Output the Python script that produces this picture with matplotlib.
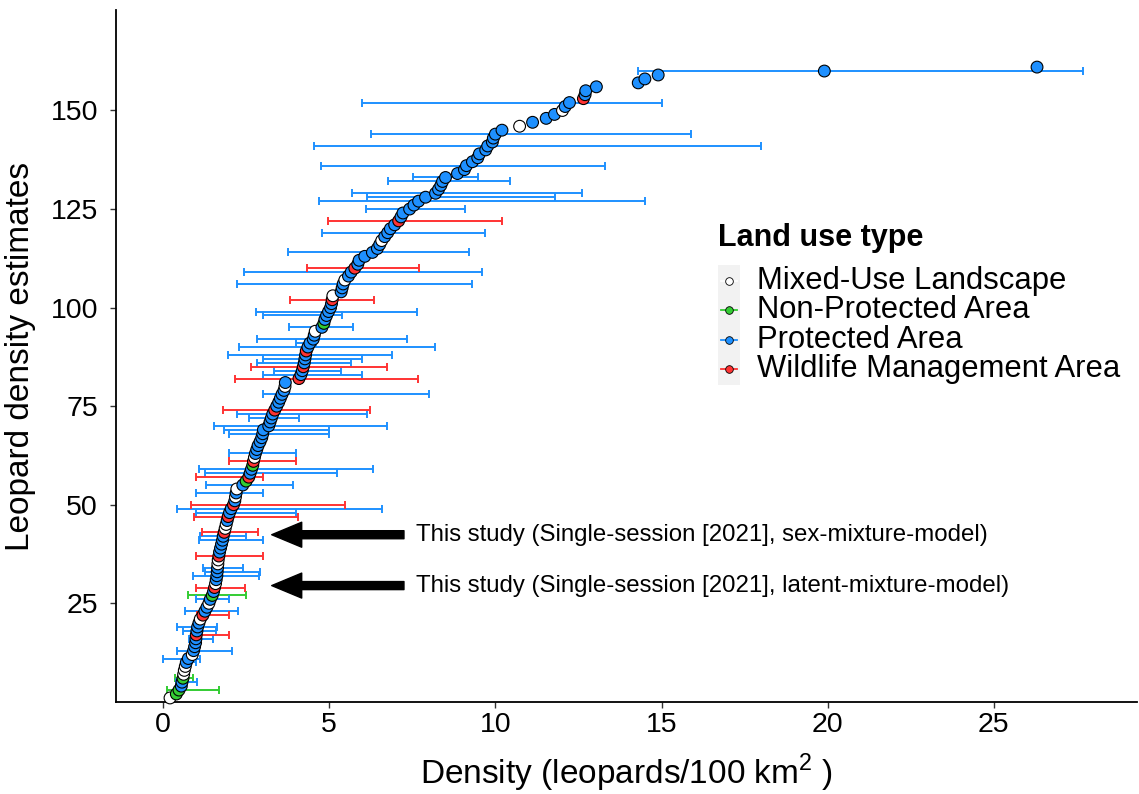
import numpy as np
import matplotlib
matplotlib.use("Agg")
import matplotlib.pyplot as plt
from matplotlib.patches import Rectangle
from matplotlib.lines import Line2D

plt.rcParams['font.family'] = ['Liberation Sans', 'DejaVu Sans']
plt.rcParams['mathtext.fontset'] = 'custom'
plt.rcParams['mathtext.rm'] = 'Liberation Sans'

# ranked leopard density estimates (leopards / 100 km2), rank 1..161
density = [
    0.21, 0.40, 0.48, 0.55, 0.57, 0.60, 0.62, 0.64, 0.67, 0.70,
    0.76, 0.88, 0.92, 0.95, 0.98, 0.99, 1.00, 1.02, 1.04, 1.08,
    1.12, 1.20, 1.26, 1.32, 1.38, 1.42, 1.48, 1.52, 1.55, 1.58,
    1.60, 1.62, 1.63, 1.64, 1.65, 1.66, 1.68, 1.70, 1.73, 1.76,
    1.79, 1.81, 1.84, 1.87, 1.90, 1.93, 1.96, 2.00, 2.05, 2.12,
    2.16, 2.18, 2.20, 2.22, 2.40, 2.50, 2.58, 2.62, 2.66, 2.70,
    2.72, 2.75, 2.78, 2.82, 2.86, 2.92, 2.97, 3.00, 3.02, 3.18,
    3.22, 3.26, 3.30, 3.36, 3.42, 3.48, 3.53, 3.58, 3.64, 3.67,
    3.68, 4.09, 4.15, 4.19, 4.22, 4.25, 4.27, 4.29, 4.31, 4.36,
    4.42, 4.52, 4.55, 4.58, 4.78, 4.84, 4.87, 4.92, 4.98, 5.04,
    5.07, 5.09, 5.11, 5.36, 5.39, 5.42, 5.47, 5.58, 5.66, 5.77,
    5.86, 5.90, 6.07, 6.30, 6.45, 6.52, 6.58, 6.67, 6.76, 6.84,
    6.97, 7.09, 7.16, 7.22, 7.42, 7.55, 7.69, 7.90, 8.20, 8.29,
    8.36, 8.41, 8.50, 8.86, 9.07, 9.13, 9.31, 9.47, 9.52, 9.71,
    9.77, 9.91, 9.94, 10.00, 10.20, 10.73, 11.12, 11.53, 11.78, 12.02,
    12.10, 12.23, 12.65, 12.70, 12.72, 13.04, 14.30, 14.50, 14.90, 19.90,
    26.30,
]

# land use per rank: M mixed-use, N non-protected, P protected, W wildlife mgmt
landuse = ("MNNPPNMMMP" "PMPPPPWPPP" "MWPPMPNPWM" "PPPPMMWPPP" "PPWMMPWPPW"
           "PMPMPNWPPN" "WMPPPPPPPP" "PPPWPPPPPM" "PWPPWPPPWP" "PPPMPNPPPP"
           "PWMPPPMPPW" "PPPPPPMPPP" "PWPPPPPPPP" "PPPPPPPPPP" "PPPPPMPPPM"
           "PPWPPPPPPP" "P")

# confidence intervals (only studies that reported them)
ci_rank = [3, 5, 6, 10, 11, 13, 16, 17, 18, 19,
           22, 23, 26, 27, 29, 32, 33, 34, 37, 41,
           42, 43, 47, 48, 49, 50, 53, 55, 57, 58,
           59, 61, 63, 68, 69, 70, 72, 73, 74, 78,
           82, 83, 84, 85, 86, 87, 88, 90, 91, 92,
           95, 98, 99, 102, 106, 109, 110, 114, 119, 122,
           125, 127, 128, 129, 132, 133, 136, 141, 144, 152,
           160]
ci_lo = [0.12, 0.39, 0.36, 0.60, 0.00, 0.42, 0.78, 0.99, 0.60, 0.42,
         1.02, 0.66, 0.99, 0.75, 0.99, 0.90, 1.26, 1.20, 0.99, 1.08,
         1.11, 1.17, 0.93, 0.99, 0.42, 0.84, 0.99, 1.29, 0.99, 1.26,
         1.08, 1.98, 1.98, 1.98, 1.83, 1.53, 2.58, 2.22, 1.80, 3.00,
         2.16, 3.00, 3.33, 2.64, 2.82, 3.00, 1.95, 2.28, 4.00, 2.82,
         3.79, 3.00, 2.80, 3.82, 2.22, 2.43, 4.33, 3.75, 4.78, 4.96,
         6.10, 4.70, 6.13, 5.68, 6.76, 7.51, 4.75, 4.54, 6.25, 5.98,
         14.30]
ci_hi = [1.68, 1.02, 0.90, 1.00, 1.11, 2.07, 1.50, 1.98, 1.59, 1.62,
         1.98, 2.25, 1.98, 2.49, 2.46, 2.88, 2.91, 2.40, 3.00, 3.00,
         2.49, 2.85, 4.06, 4.00, 6.58, 5.47, 3.00, 3.90, 3.00, 5.23,
         6.31, 4.00, 4.00, 4.99, 4.99, 6.73, 4.09, 6.13, 6.22, 8.00,
         7.66, 6.00, 5.35, 6.73, 5.65, 6.00, 6.88, 8.17, 4.60, 7.33,
         5.71, 5.40, 7.63, 6.34, 9.30, 9.60, 7.69, 9.20, 9.70, 10.19,
         9.10, 14.50, 11.80, 12.60, 10.43, 9.47, 13.30, 18.00, 15.90, 15.00,
         27.67]

categories = ['M', 'N', 'P', 'W']
cat_names = ['Mixed-Use Landscape', 'Non-Protected Area', 'Protected Area',
             'Wildlife Management Area']
cat_colors = ['#FFFFFF', '#33CC33', '#1E90FF', '#FF3333']

study_labels = ['This study (Single-session [2021], sex-mixture-model)',
                'This study (Single-session [2021], latent-mixture-model)']
study_y = [42.4, 29.5]

rank = np.arange(1, len(density) + 1)
density = np.array(density)
landuse = np.array(list(landuse))
ci_rank = np.array(ci_rank)
ci_lo = np.array(ci_lo)
ci_hi = np.array(ci_hi)
col_of = dict(zip(categories, cat_colors))

fig = plt.figure(figsize=(11.39, 7.94), dpi=100)
ax = fig.add_axes([0.102, 0.116, 0.896, 0.871])

# error bars first so the points sit on top
ci_est = density[ci_rank - 1]
ci_cat = landuse[ci_rank - 1]
for c, col in zip(categories, cat_colors):
    m = ci_cat == c
    if not m.any():
        continue
    ax.errorbar(ci_est[m], ci_rank[m],
                xerr=[ci_est[m] - ci_lo[m], ci_hi[m] - ci_est[m]],
                fmt='none', ecolor=col, elinewidth=1.4, capsize=2.6,
                capthick=1.4, zorder=2)

# points in rank order, as ggplot would draw them
ax.scatter(density, rank, s=72, c=[col_of[c] for c in landuse],
           edgecolors='black', linewidths=0.8, zorder=3, clip_on=False)

# arrows pointing at this study's estimates
for lab, yy in zip(study_labels, study_y):
    ax.annotate('', xy=(3.27, yy), xytext=(7.25, yy),
                arrowprops=dict(arrowstyle='simple,head_length=1.08,head_width=0.9,tail_width=0.29',
                                color='black', mutation_scale=20, shrinkA=0, shrinkB=0))
    ax.text(7.6, yy, lab, fontsize=17.3, va='center', ha='left')

ax.set_xlim(-1.41, 29.3)
ax.set_ylim(0, 175.4)
ax.set_xticks([0, 5, 10, 15, 20, 25])
ax.set_yticks([25, 50, 75, 100, 125, 150])
ax.tick_params(labelsize=20.5, length=4, width=1, color='#333333')
ax.tick_params(axis='x', pad=3)
ax.tick_params(axis='y', pad=9)
for s in ['top', 'right']:
    ax.spines[s].set_visible(False)
for s in ['left', 'bottom']:
    ax.spines[s].set_linewidth(1.3)

ax.set_xlabel('Density (leopards/100 km$^{2}$ )', fontsize=24, labelpad=10)
ax.set_ylabel('Leopard density estimates', fontsize=24)
ax.yaxis.set_label_coords(-0.079, 0.5)

# legend drawn by hand in figure pixels (ggplot style key column)
W, H = 1139, 794
fig.text(718 / W, 1 - 238 / H, 'Land use type', fontsize=22, fontweight='bold',
         va='center', ha='left')
fig.patches.append(Rectangle((718 / W, 1 - 385 / H), 22 / W, 120 / H,
                             transform=fig.transFigure, facecolor='#F2F2F2',
                             edgecolor='none'))
for i, (name, col) in enumerate(zip(cat_names, cat_colors)):
    yy = 1 - (281 + 29.3 * i) / H
    fig.add_artist(Line2D([721 / W, 737 / W], [yy, yy], color=col, lw=1.3,
                          transform=fig.transFigure))
    fig.add_artist(Line2D([729 / W], [yy], marker='o', markersize=5.5,
                          markerfacecolor=col, markeredgecolor='black',
                          markeredgewidth=0.6, transform=fig.transFigure))
    fig.text(757 / W, yy, name, fontsize=22.3, va='center', ha='left')

fig.savefig('out.png', dpi=100)
